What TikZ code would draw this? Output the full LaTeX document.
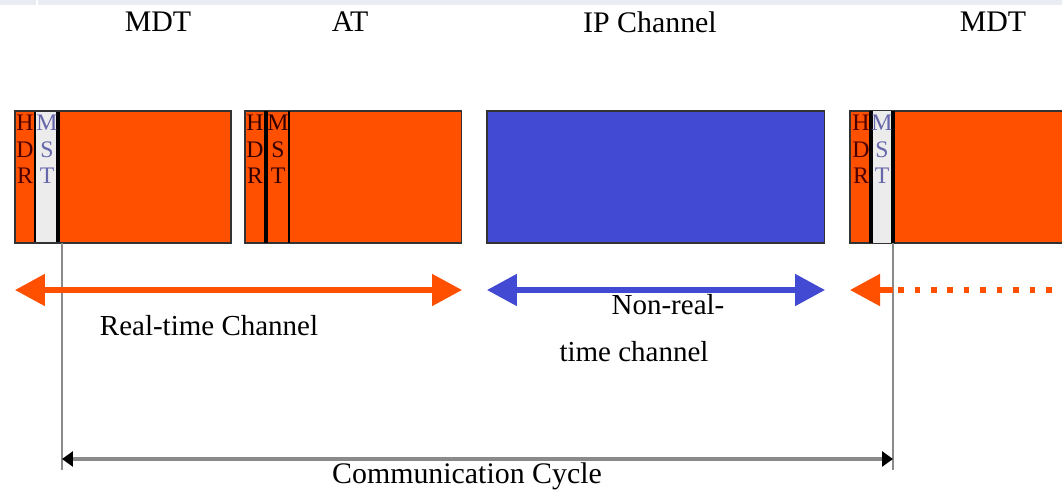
\documentclass[tikz,border=0pt]{standalone}
\usepackage{fontspec}
\setmainfont{Liberation Serif}
\usetikzlibrary{arrows.meta}
\definecolor{rtorange}{HTML}{FF5000}
\definecolor{ipblue}{HTML}{4249D2}
\definecolor{mstgray}{HTML}{ECECEC}
\definecolor{bandgray}{HTML}{E9EDF3}
\definecolor{cyclegray}{HTML}{8A8A8A}
\begin{document}
\begin{tikzpicture}[x=0.02cm,y=-0.02cm,
  framebox/.style={draw=black!80,line width=0.6pt,anchor=north west,inner sep=0pt,outer sep=0pt,minimum height=2.64cm},
  letters/.style={anchor=north,inner sep=0pt,align=center,font=\fontsize{13.5}{15}\selectfont},
  toplabel/.style={font=\fontsize{17}{19}\selectfont},
  chlabel/.style={font=\fontsize{16.5}{18}\selectfont,inner sep=0pt},
  bighead/.style={Triangle[length=0.6cm,width=0.62cm]},
  rtarrow/.style={draw=rtorange,line width=3pt,{Triangle[length=0.6cm,width=0.62cm]}-{Triangle[length=0.6cm,width=0.62cm]}},
  iparrow/.style={draw=ipblue,line width=3pt,{Triangle[length=0.6cm,width=0.62cm]}-{Triangle[length=0.6cm,width=0.62cm]}},
  cyclearrow/.style={draw=cyclegray,line width=1.8pt,{Triangle[length=0.22cm,width=0.3cm,fill=black,color=black]}-{Triangle[length=0.22cm,width=0.3cm,fill=black,color=black]}},
  markline/.style={draw=cyclegray,line width=1.2pt},
  septhin/.style={draw=black,line width=0.8pt},
  septhick/.style={draw=black,line width=2pt}]
\useasboundingbox (0,0) rectangle (1062,490);
\fill[bandgray] (0,0) rectangle (1062,5);
\fill[white] (36,0) rectangle (38,5);

% top labels
\node[toplabel] (l1) at (158,22) {MDT};
\node[toplabel] (l2) at (350,22) {AT};
\node[toplabel] (l3) at (650,22) {IP Channel};
\node[toplabel] (l4) at (993,22) {MDT};

% box 1 (MDT)
\node[framebox,fill=rtorange,minimum width=4.32cm] (b1) at (15,111) {};
\fill[mstgray] (35,111) rectangle (58,243);
\draw[septhin] (35,111) -- (35,243);
\draw[septhick] (58,111) -- (58,243);
\draw[black!80,line width=0.6pt] (15,111) rectangle (231,243);
\node[letters,text=black!70!red] (h1) at (25,115) {H\\D\\R};
\node[letters,text=black!55!blue!60!white] (m1) at (47,115) {M\\S\\T};

% box 2 (AT)
\node[framebox,fill=rtorange,minimum width=4.34cm] (b2) at (245,111) {};
\draw[septhick] (266,111) -- (266,243);
\draw[septhin] (289,111) -- (289,243);
\node[letters,text=black!80!red] (h2) at (255,115) {H\\D\\R};
\node[letters,text=black!80!red] (m2) at (278,115) {M\\S\\T};

% IP channel
\node[framebox,fill=ipblue,minimum width=6.76cm] (b3) at (487,111) {};

% box 4 (MDT)
\node[framebox,fill=rtorange,minimum width=4.6cm] (b4) at (850,111) {};
\fill[mstgray] (871,111) rectangle (893,243);
\draw[septhick] (871,111) -- (871,243);
\draw[septhick] (893,111) -- (893,243);
\draw[black!80,line width=0.6pt] (850,111) -- (850,243);
\node[letters,text=black!70!red] (h4) at (861,115) {H\\D\\R};
\node[letters,text=black!55!blue!60!white] (m4) at (882,115) {M\\S\\T};

% coordinates
\coordinate (ra) at (15,290);
\coordinate (rb) at (462,290);
\coordinate (ia) at (487,290);
\coordinate (ib) at (825,290);
\coordinate (na) at (850,290);
\coordinate (nb) at (893,290);
\coordinate (nd) at (898,290);
\coordinate (ne) at (1062,290);
\coordinate (v1t) at (62,243);
\coordinate (v1b) at (62,470);
\coordinate (v2t) at (893,243);
\coordinate (v2b) at (893,470);
\coordinate (ca) at (62,459);
\coordinate (cb) at (893,459);

% vertical markers
\draw[markline] (v1t) -- (v1b);
\draw[markline] (v2t) -- (v2b);

% channel arrows
\draw[rtarrow] (ra) -- (rb);
\draw[iparrow] (ia) -- (ib);
\draw[draw=rtorange,line width=3pt,-{Triangle[length=0.6cm,width=0.62cm]}] (nb) -- (na);
\draw[draw=rtorange,line width=0.11cm,dash pattern=on 0.11cm off 0.22cm] (nd) -- (ne);

% labels
\node[chlabel] (t1) at (209,326) {Real-time Channel};
\node[chlabel] (t2) at (668,305) {Non-real-};
\node[chlabel] (t3) at (634,352) {time channel};

% communication cycle
\draw[cyclearrow] (ca) -- (cb);
\node[font=\fontsize{17}{19}\selectfont,inner sep=0pt] (t4) at (467,476) {Communication Cycle};
\end{tikzpicture}
\end{document}
